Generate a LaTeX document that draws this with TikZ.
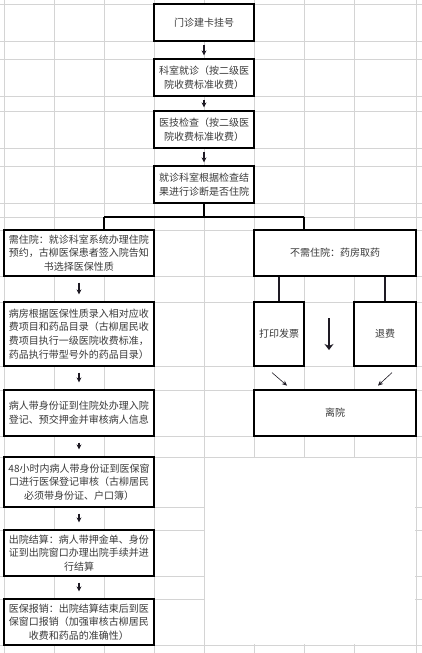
\documentclass[tikz,border=0pt]{standalone}
\usepackage{fontspec}
\setmainfont{Noto Sans CJK SC}
\usetikzlibrary{arrows.meta,positioning,calc}
\definecolor{Grid}{HTML}{D4D4D4}
\definecolor{Ink}{HTML}{3A3A3A}
\definecolor{Edge}{HTML}{1E1A24}

\begin{document}
\begin{tikzpicture}[x=1pt,y=-1pt,
    gridline/.style={draw=Grid,line width=1pt},
    cell/.style={draw=black,line width=1.2pt,fill=white,inner sep=0pt,align=center,
      text=Ink,font=\fontsize{10}{13.7}\selectfont},
    link/.style={draw=black,line width=1.2pt},
    down/.style={draw=Edge,line width=1.1pt,-{Stealth[length=5pt,width=5pt]}},
    slant/.style={draw=Edge,line width=0.6pt,-{Stealth[length=5pt,width=4.5pt]}}]
  \fill[white] (0,0) rectangle (422,653);
  \useasboundingbox (0,0) rectangle (422,653);
  % sheet grid
  \foreach \gx in {4,54,104,154,204,254,304,354,416}
    \draw[gridline] (\gx,0) -- (\gx,653);
  \foreach \gy in {4,41,59,96,111,148,166,203,217,230,276,302,366,390,436,457,507,530,576,599,645}
    \draw[gridline] (0,\gy) -- (422,\gy);
  \fill[white] (204.6,457.6) rectangle (415.4,644.4);
  % boxes
  \foreach \name/\cx/\cy/\w/\h/\txt in {
    reg/204/22.5/100/37/{门诊建卡挂号},
    dept/204/77.5/100/37/{科室就诊（按二级医\\院收费标准收费）},
    exam/204/129.5/100/37/{医技检查（按二级医\\院收费标准收费）},
    diag/204/184.5/100/37/{就诊科室根据检查结\\果进行诊断是否住院},
    inpt/79/253/150/46/{需住院：就诊科室系统办理住院\\预约，古柳医保患者签入院告知\\书选择医保性质},
    ward/79/334/150/64/{病房根据医保性质录入相对应收\\费项目和药品目录（古柳居民收\\费项目执行一级医院收费标准，\\药品执行带型号外的药品目录）},
    admit/79/413/150/46/{病人带身份证到住院处办理入院\\登记、预交押金并审核病人信息},
    insur/79/482/150/50/{48小时内病人带身份证到医保窗\\口进行医保登记审核（古柳居民\\必须带身份证、户口簿）},
    settle/79/553/150/46/{出院结算：病人带押金单、身份\\证到出院窗口办理出院手续并进\\行结算},
    reimb/79/622/150/46/{医保报销：出院结算结束后到医\\保窗口报销（加强审核古柳居民\\收费和药品的准确性）},
    outpt/335/253/162/46/{不需住院：药房取药},
    invoice/279/334/50/64/{打印发票},
    refund/385/334/62/64/{退费},
    leave/335/413/162/46/{离院}}
    \node[cell,minimum width=\w,minimum height=\h] (\name) at (\cx,\cy) {\txt};
  % main chain
  \foreach \a/\b in {reg/dept,dept/exam,exam/diag}
    \draw[down,shorten <=3pt,shorten >=3pt] (\a) -- (\b);
  \foreach \a/\b in {inpt/ward,ward/admit,admit/insur,insur/settle,settle/reimb}
    \draw[down,shorten <=6pt,shorten >=7pt] (\a) -- (\b);
  % fork
  \coordinate (forkL) at (104,217);
  \coordinate (forkR) at (304,217);
  \draw[link] (diag.south) -- (diag.south |- forkL);
  \draw[link] (forkL) -- (forkR);
  \draw[link] (forkL) -- (forkL |- inpt.north);
  \draw[link] (forkR) -- (forkR |- outpt.north);
  % outpatient side
  \draw[link,draw=Edge] (outpt.south -| invoice.north) -- (invoice.north);
  \draw[link,draw=Edge] (outpt.south -| refund.north) -- (refund.north);
  \coordinate (mid) at ($(invoice.east)!.5!(refund.west)$);
  \draw[link,draw=Edge,-{Stealth[length=6pt,width=9pt]}] ([yshift=16pt]mid) -- ([yshift=-16pt]mid);
  \draw[slant] ($(invoice.south)+(-7,6)$) -- ($(invoice.south)+(8,19)$);
  \draw[slant] ($(refund.south)+(7,6)$) -- ($(refund.south)+(-7,19)$);
\end{tikzpicture}
\end{document}
